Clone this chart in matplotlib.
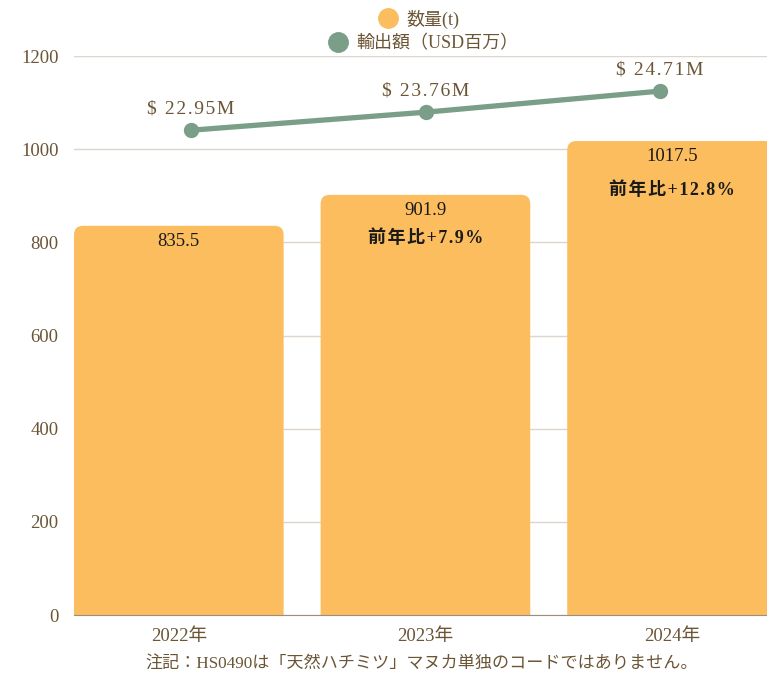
import matplotlib.pyplot as plt
from matplotlib.patches import FancyBboxPatch
from matplotlib.lines import Line2D

plt.rcParams['font.family'] = ['Liberation Serif', 'Noto Sans CJK JP', 'DejaVu Sans']

years = ['2022年', '2023年', '2024年']
volume = [835.5, 901.9, 1017.5]          # 数量(t)
value_usd = [22.95, 23.76, 24.71]        # 輸出額（USD百万）
yoy_labels = ['', '前年比+7.9%', '前年比+12.8%']

bar_color = '#fbbd5e'
line_color = '#7a9e87'
text_brown = '#6b5535'
grid_color = '#dcd6cc'


def spaced(s):
    # rough letter spacing like the original labels
    return '\u200a'.join(s)


fig = plt.figure(figsize=(7.67, 6.76), dpi=100)
rect = [74 / 767, 61 / 676, 1 - 74 / 767, 559 / 676]
ax = fig.add_axes(rect)

x = range(len(years))
bars = ax.bar(x, volume, width=0.85, color=bar_color, zorder=2)

# swap plain bars for ones with rounded top corners
px_per_x = ax.get_position().width * 767 / (2.385 + 0.425)
px_per_y = ax.get_position().height * 676 / 1200
for b in bars:
    b.set_visible(False)
    r = 9 / px_per_x
    patch = FancyBboxPatch((b.get_x(), -100), b.get_width(), b.get_height() + 100,
                           boxstyle=f'round,pad=0,rounding_size={r}',
                           mutation_aspect=px_per_x / px_per_y,
                           facecolor=bar_color, edgecolor='none', zorder=2)
    ax.add_patch(patch)

ax.set_xlim(-0.425, 2.385)
ax.set_ylim(0, 1200)
ax.set_yticks(range(0, 1201, 200))
ax.grid(axis='y', color=grid_color, lw=1, zorder=0)
ax.set_axisbelow(True)
for s in ['top', 'right', 'left']:
    ax.spines[s].set_visible(False)
ax.spines['bottom'].set_color('#9a8f80')
ax.tick_params(axis='both', length=0, colors=text_brown, labelsize=13.5)
ax.tick_params(axis='x', pad=9)
ax.tick_params(axis='y', pad=11)
ax.set_xticks(list(x))
ax.set_xticklabels(years)

# bar labels
for i, v in enumerate(volume):
    ax.annotate(f'{v}', (i, v), xytext=(0, -5), textcoords='offset points',
                ha='center', va='top', fontsize=13.5, color='#1a1a1a', zorder=4)
    if yoy_labels[i]:
        off = -25 if i == 1 else -29
        ax.annotate(spaced(yoy_labels[i]), (i, v), xytext=(0, off), textcoords='offset points',
                    ha='center', va='top', fontsize=13, fontweight='bold',
                    color='#1a1a1a', zorder=4)

# export value line on its own hidden axes (line scale is a bit narrower than the bars)
ax2 = fig.add_axes(rect, frameon=False, label='line')
ax2.set_xlim(-0.499, 2.456)
ax2.set_ylim(1.13, 26.29)
ax2.axis('off')
ax2.plot(list(x), value_usd, color=line_color, lw=3.8, marker='o', markersize=10,
         solid_capstyle='round', zorder=5)
for i, v in enumerate(value_usd):
    ax2.annotate(spaced(f'$ {v:.2f}M'), (i, v), xytext=(0, 9), textcoords='offset points',
                 ha='center', va='bottom', fontsize=14, color=text_brown)

# legend (one row per series, each centred)
h1 = Line2D([], [], marker='o', ls='none', color=bar_color, markersize=14)
h2 = Line2D([], [], marker='o', ls='none', color=line_color, markersize=14)
fig.legend([h1], ['数量(t)'], loc='center', bbox_to_anchor=(419 / 767, 1 - 19 / 676),
           frameon=False, fontsize=13, labelcolor=text_brown,
           handletextpad=0.5, borderpad=0, handlelength=1)
fig.legend([h2], ['輸出額（USD百万）'], loc='center', bbox_to_anchor=(424 / 767, 1 - 44 / 676),
           frameon=False, fontsize=13, labelcolor=text_brown,
           handletextpad=0.5, borderpad=0, handlelength=1)

fig.text(422 / 767, 1 - 665 / 676, '注記：HS0490は「天然ハチミツ」マヌカ単独のコードではありません。',
         ha='center', va='center', fontsize=12.3, color=text_brown)

fig.savefig('out.png', dpi=100)
